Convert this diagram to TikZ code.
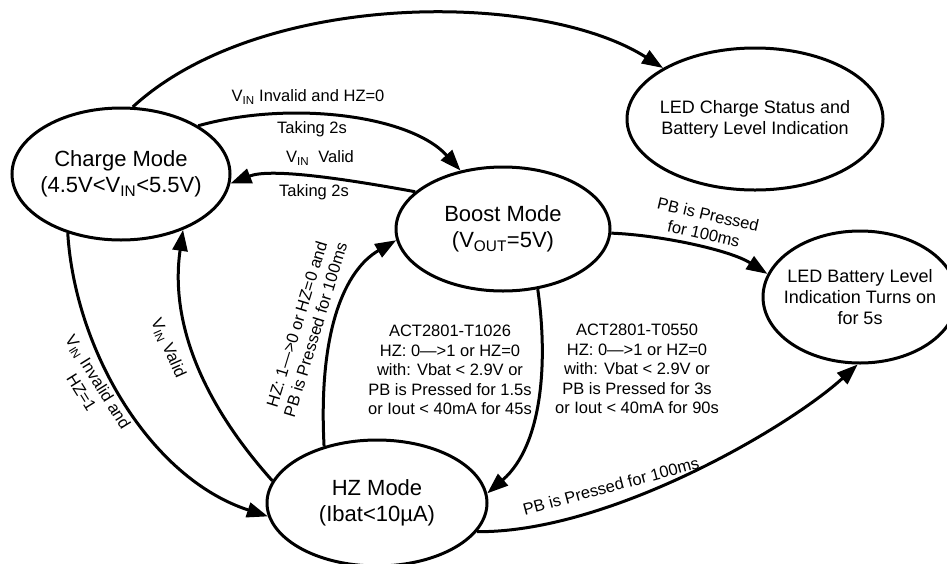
\documentclass[tikz,border=0pt]{standalone}
\usepackage{fontspec}
\setmainfont{Liberation Sans}
\usetikzlibrary{shapes.geometric,arrows.meta}

\begin{document}
\begin{tikzpicture}[x=1pt, y=-1pt,
    state/.style={ellipse, draw, line width=3pt, inner sep=0pt, inner xsep=-10pt,
      align=center, font=\fontsize{22}{26}\selectfont},
    ledstate/.style={state, font=\fontsize{18}{21}\selectfont},
    trans/.style={line width=3pt, -{Triangle[length=21pt,width=15pt]}},
    cond/.style={align=center, inner sep=0pt, font=\fontsize{16.5}{19.5}\selectfont}]
    \useasboundingbox (0,0) rectangle (947,563);

    \node[state, minimum width=218pt, minimum height=132pt] (charge) at (121,174) {Charge Mode\\(4.5V<V\textsubscript{IN}<5.5V)};
    \node[ledstate, minimum width=256pt, minimum height=142pt] (ledstatus) at (755,119) {LED Charge Status and\\Battery Level Indication};
    \node[state, minimum width=214pt, minimum height=124pt] (boost) at (503,229) {Boost Mode\\(V\textsubscript{OUT}=5V)};
    \node[ledstate, minimum width=194pt, minimum height=132pt] (ledbat) at (860,297) {LED Battery Level\\Indication Turns on\\for 5s};
    \node[state, minimum width=220pt, minimum height=126pt] (hz) at (377,503) {HZ Mode\\(Ibat<10µA)};

    \draw[trans] (charge.80) .. controls (260,-10) and (540,-10) .. (ledstatus.151);
    \draw[trans] (charge.32) .. controls (290,100) and (410,115) .. (boost.126);
    \node[cond] (invalidzero) at (308,97) {V\textsubscript{IN} Invalid and HZ=0};
    \node[cond] (takeboost) at (312,129) {Taking 2s};
    \draw[trans] (boost.157) .. controls (340,178) and (270,168) .. (charge.-5);
    \node[cond] (validboost) at (320,158) {V\textsubscript{IN}~~Valid};
    \node[cond] (takecharge) at (314,192) {Taking 2s};

    \draw[trans] (boost) .. controls (660,235) and (730,250) .. (ledbat.166);
    \node[cond, rotate=-13] (pbboost) at (706,224) {PB is Pressed\\for 100ms};

    \draw[trans] (charge.228) .. controls (75,350) and (150,478) .. (hz.187);
    \node[cond, rotate=-58] (invalidone) at (90,387) {V\textsubscript{IN} Invalid and\\HZ=1};
    \draw[trans] (hz.168) .. controls (200,400) and (170,320) .. (charge.-42);
    \node[cond, rotate=-66] (validhz) at (168,348) {V\textsubscript{IN} Valid};

    \draw[trans] (hz.133) .. controls (318,330) and (345,270) .. (boost.186);
    \node[cond, rotate=73] (hzwake) at (306,327) {HZ: 1—>0 or HZ=0 and\\PB is Pressed for 100ms};
    \draw[trans] (boost.-60) .. controls (548,360) and (543,445) .. (hz.5);
    \node[cond] (tlong) at (450,370) {ACT2801-T1026\\HZ: 0—>1 or HZ=0\\with: Vbat < 2.9V or\\PB is Pressed for 1.5s\\or Iout < 40mA for 45s};
    \node[cond] (tshort) at (637,369) {ACT2801-T0550\\HZ: 0—>1 or HZ=0\\with: Vbat < 2.9V or\\PB is Pressed for 3s\\or Iout < 40mA for 90s};

    \draw[trans] (hz.-16) .. controls (608,533) and (788,428) .. (ledbat.-92);
    \node[cond, rotate=15] (pbhz) at (611,486) {PB is Pressed for 100ms};
\end{tikzpicture}
\end{document}
